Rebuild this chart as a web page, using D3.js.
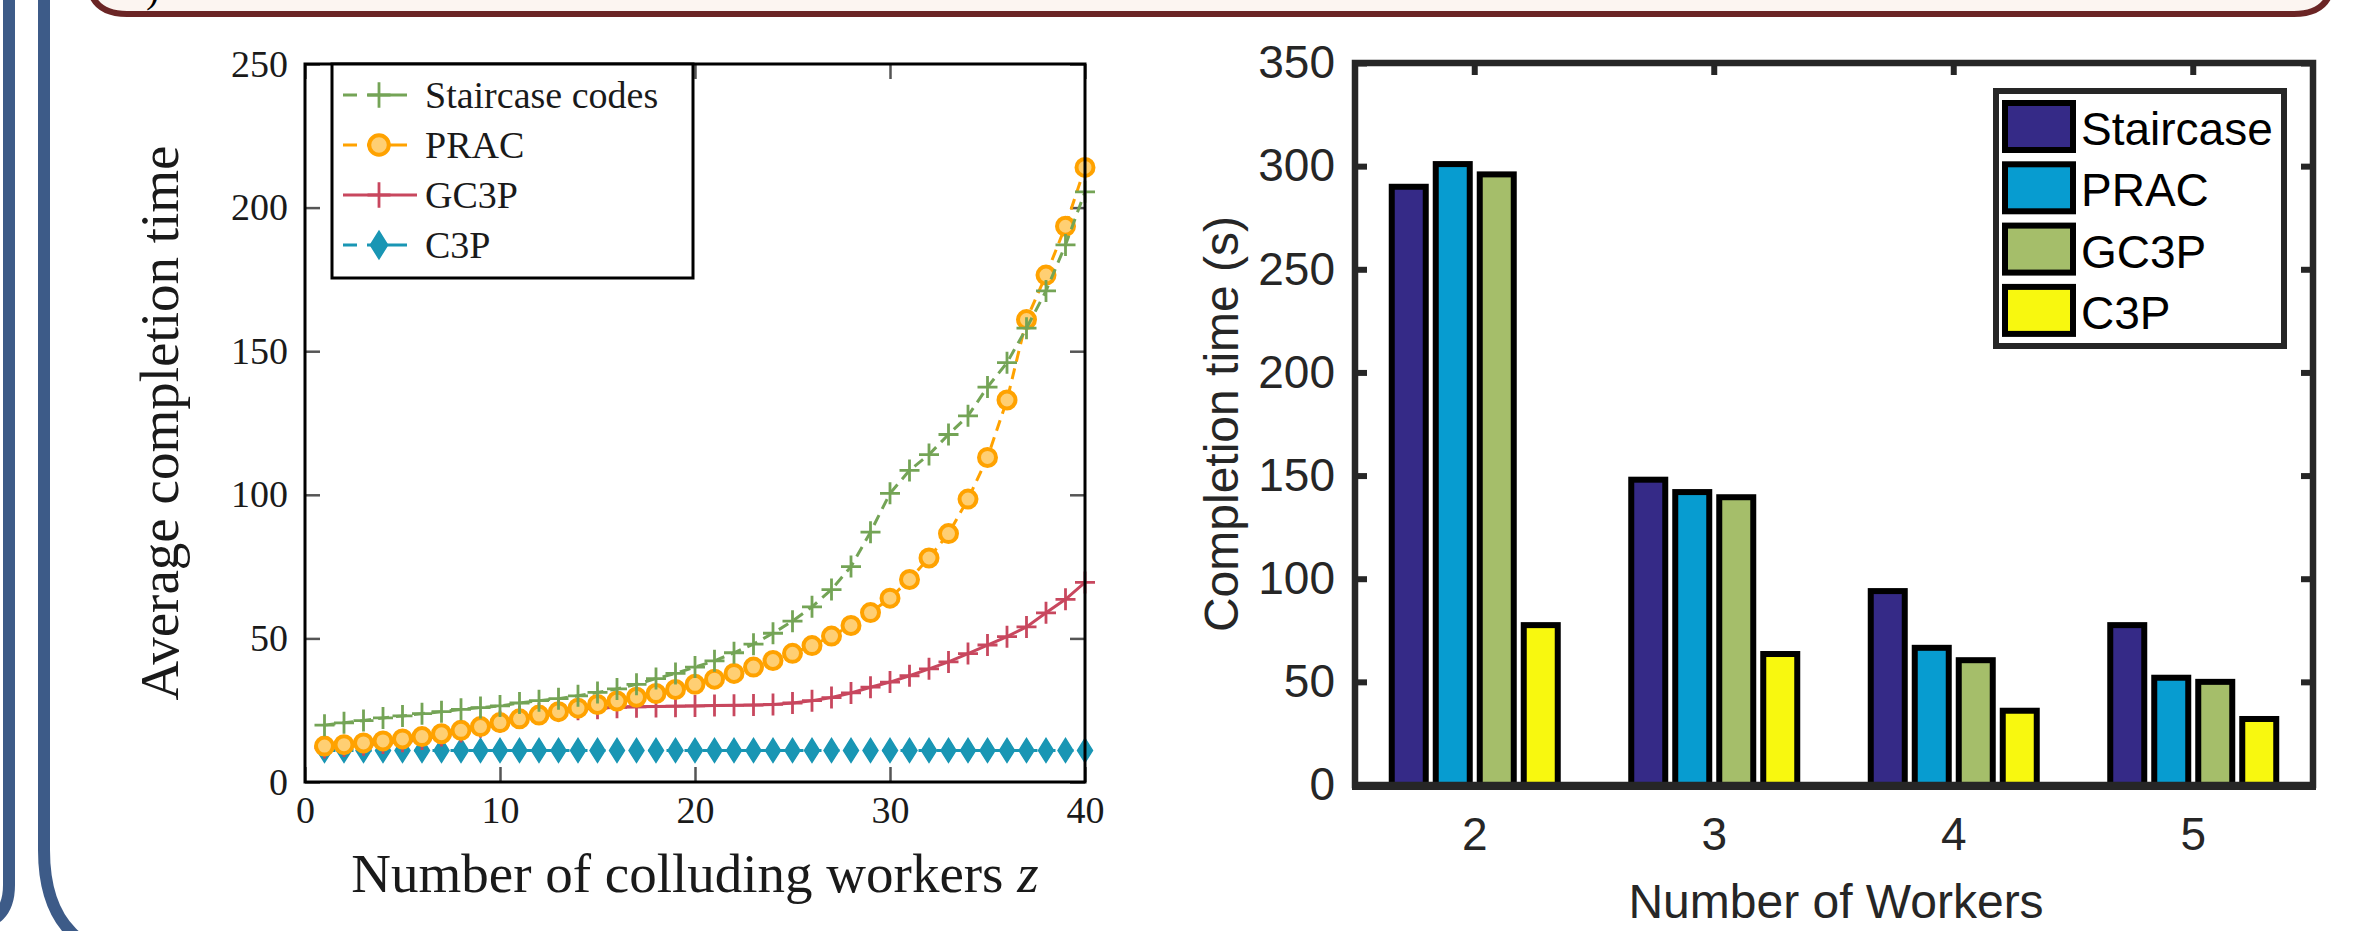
<!DOCTYPE html>
<html lang="en">
<head>
<meta charset="utf-8">
<title>Completion time comparison</title>
<script src="https://cdn.jsdelivr.net/npm/d3@7"></script>
<style>
  html, body { margin: 0; padding: 0; background: #fff; }
  svg { display: block; }
  .serif { font-family: "Liberation Serif", "DejaVu Serif", serif; fill: #1a1a1a; }
  .sans { font-family: Arial, "Liberation Sans", sans-serif; fill: #262626; }
</style>
</head>
<body>
<svg id="chart" width="2374" height="931"></svg>
<script>
// ---- left panel data: average completion time vs colluding workers z
const zWorkers = [1, 2, 3, 4, 5, 6, 7, 8, 9, 10, 11, 12, 13, 14, 15, 16, 17, 18, 19, 20,
                  21, 22, 23, 24, 25, 26, 27, 28, 29, 30, 31, 32, 33, 34, 35, 36, 37, 38, 39, 40];
const staircaseLine = [19.8, 20.6, 21.4, 22.3, 23.0, 23.8, 24.5, 25.3, 25.9, 26.5,
                       27.5, 28.3, 29.0, 30.0, 31.2, 32.4, 34.0, 36.0, 37.8, 40.0,
                       42.2, 45.0, 48.0, 51.8, 56.0, 61.0, 67.0, 75.0, 87.0, 100.5,
                       108.5, 114.0, 121.0, 127.5, 137.5, 146.0, 158.0, 171.0, 187.0, 205.5];
const pracLine = [12.5, 13.0, 13.6, 14.3, 15.0, 15.8, 16.8, 18.0, 19.3, 20.7,
                  22.0, 23.3, 24.5, 25.7, 27.0, 28.2, 29.5, 30.8, 32.2, 34.0,
                  35.8, 37.8, 40.0, 42.3, 44.8, 47.5, 50.8, 54.5, 59.0, 64.0,
                  70.5, 78.0, 86.5, 98.5, 113.0, 133.0, 161.0, 176.5, 193.5, 214.0];
const gc3pLine = [12.0, 12.5, 13.0, 13.6, 14.2, 15.0, 16.2, 17.6, 19.2, 21.0,
                  22.6, 23.8, 24.7, 25.3, 25.7, 26.0, 26.2, 26.3, 26.4, 26.5,
                  26.6, 26.7, 26.8, 27.0, 27.5, 28.3, 29.4, 31.0, 33.0, 34.8,
                  37.0, 39.4, 41.8, 44.7, 47.7, 50.6, 54.0, 58.9, 63.6, 69.5];
const c3pLine = [11, 11, 11, 11, 11, 11, 11, 11, 11, 11,
                 11, 11, 11, 11, 11, 11, 11, 11, 11, 11,
                 11, 11, 11, 11, 11, 11, 11, 11, 11, 11,
                 11, 11, 11, 11, 11, 11, 11, 11, 11, 11];
const leftXTicks = [0, 10, 20, 30, 40];
const leftYTicks = [0, 50, 100, 150, 200, 250];

// ---- right panel data: completion time vs number of workers
const workerCounts = ["2", "3", "4", "5"];
const barSeriesNames = ["Staircase", "PRAC", "GC3P", "C3P"];
const staircaseBars = [290, 148, 94, 77.5];
const pracBars = [301, 142, 66.5, 52];
const gc3pBars = [296, 139.5, 60.5, 50];
const c3pBars = [77.5, 63.5, 36, 32];
const rightYTicks = [0, 50, 100, 150, 200, 250, 300, 350];

const svg = d3.select("#chart");

// ---------- frame decorations (slide borders)
svg.append("path")
  .attr("d", "M88,-60 L88,-25 Q88,14 127,14 L2294,14 Q2333,14 2333,-25 L2333,-60 Z")
  .attr("fill", "#fcf5f1").attr("stroke", "#6b2525").attr("stroke-width", 6);
svg.append("text").attr("class", "serif").attr("x", 146).attr("y", 2)
  .attr("font-size", 40).style("fill", "#000").text(")");
svg.append("path")
  .attr("d", "M9,-10 L9,885 Q9,925 -31,925")
  .attr("fill", "none").attr("stroke", "#3d5b88").attr("stroke-width", 12);
svg.append("path")
  .attr("d", "M44,-10 L44,850 Q44,960 154,960")
  .attr("fill", "none").attr("stroke", "#3d5b88").attr("stroke-width", 12);

// ================= LEFT PANEL =================
const xL = d3.scaleLinear().domain([0, 40]).range([305, 1085]);
const yL = d3.scaleLinear().domain([0, 250]).range([782, 64]);

const left = svg.append("g");

// axes with inward ticks
left.append("g").attr("transform", "translate(305,0)")
  .call(d3.axisLeft(yL).tickValues(leftYTicks).tickSizeInner(-15).tickSizeOuter(0).tickPadding(17))
  .call(g => g.select(".domain").remove())
  .call(g => g.selectAll("line").attr("stroke", "#555").attr("stroke-width", 2.5))
  .call(g => g.selectAll("text").attr("class", "serif").attr("font-size", 38).attr("fill", null));
left.append("g").attr("transform", "translate(1085,0)")
  .call(d3.axisRight(yL).tickValues(leftYTicks).tickSizeInner(-15).tickSizeOuter(0).tickFormat(""))
  .call(g => g.select(".domain").remove())
  .call(g => g.selectAll("line").attr("stroke", "#555").attr("stroke-width", 2.5));
left.append("g").attr("transform", "translate(0,782)")
  .call(d3.axisBottom(xL).tickValues(leftXTicks).tickSizeInner(-15).tickSizeOuter(0).tickPadding(14))
  .call(g => g.select(".domain").remove())
  .call(g => g.selectAll("line").attr("stroke", "#555").attr("stroke-width", 2.5))
  .call(g => g.selectAll("text").attr("class", "serif").attr("font-size", 38).attr("fill", null));
left.append("g").attr("transform", "translate(0,64)")
  .call(d3.axisTop(xL).tickValues(leftXTicks).tickSizeInner(-15).tickSizeOuter(0).tickFormat(""))
  .call(g => g.select(".domain").remove())
  .call(g => g.selectAll("line").attr("stroke", "#555").attr("stroke-width", 2.5));

const lineGen = d3.line().x(d => xL(d[0])).y(d => yL(d[1]));
const zip = vals => zWorkers.map((z, i) => [z, vals[i]]);

const leftSeries = [
  { name: "Staircase codes", vals: staircaseLine, color: "#74a456", dash: "11,7", marker: "plus" },
  { name: "PRAC", vals: pracLine, color: "#ffa200", dash: "11,7", marker: "circle" },
  { name: "GC3P", vals: gc3pLine, color: "#c8475e", dash: null, marker: "plus" },
  { name: "C3P", vals: c3pLine, color: "#1996b4", dash: "11,7", marker: "diamond" }
];

function drawMarker(g, type, color, cx, cy, s) {
  if (type === "plus") {
    g.append("path")
      .attr("d", `M${cx - 10 * s},${cy} H${cx + 10 * s} M${cx},${cy - 11 * s} V${cy + 11 * s}`)
      .attr("stroke", color).attr("stroke-width", 2.8).attr("fill", "none");
  } else if (type === "circle") {
    g.append("circle").attr("cx", cx).attr("cy", cy).attr("r", 8.5 * s)
      .attr("fill", "#ffcf73").attr("stroke", color).attr("stroke-width", 4);
  } else {
    g.append("path")
      .attr("d", `M${cx},${cy - 12 * s} L${cx + 7.5 * s},${cy} L${cx},${cy + 12 * s} L${cx - 7.5 * s},${cy} Z`)
      .attr("fill", color).attr("stroke", color).attr("stroke-width", 1.5);
  }
}

// draw in back-to-front order like the original: C3P at the bottom
[...leftSeries].reverse().forEach(s => {
  const g = left.append("g");
  g.append("path").datum(zip(s.vals)).attr("d", lineGen)
    .attr("fill", "none").attr("stroke", s.color).attr("stroke-width", 3)
    .attr("stroke-dasharray", s.dash);
  zip(s.vals).forEach(d => drawMarker(g, s.marker, s.color, xL(d[0]), yL(d[1]), 1));
});

// frame
left.append("rect").attr("x", 305).attr("y", 64).attr("width", 780).attr("height", 718)
  .attr("fill", "none").attr("stroke", "#000").attr("stroke-width", 3);

// legend
const legL = left.append("g");
legL.append("rect").attr("x", 332).attr("y", 64).attr("width", 361).attr("height", 214)
  .attr("fill", "#fff").attr("stroke", "#000").attr("stroke-width", 3);
leftSeries.forEach((s, i) => {
  const cy = 95 + i * 50;
  const x1 = 343, x2 = s.dash ? 407 : 417;
  legL.append("line").attr("x1", x1).attr("x2", x2).attr("y1", cy).attr("y2", cy)
    .attr("stroke", s.color).attr("stroke-width", 3)
    .attr("stroke-dasharray", s.dash ? "14,10,100" : null);
  drawMarker(legL, s.marker, s.color, 379, cy, 1.15);
  legL.append("text").attr("class", "serif").attr("x", 425).attr("y", cy + 13)
    .attr("font-size", 38).text(s.name);
});

// titles
left.append("text").attr("class", "serif").attr("font-size", 55)
  .attr("text-anchor", "middle").attr("transform", "translate(178,423) rotate(-90)")
  .text("Average completion time");
const xt = left.append("text").attr("class", "serif").attr("font-size", 55)
  .attr("text-anchor", "middle").attr("x", 695).attr("y", 892);
xt.append("tspan").text("Number of colluding workers ");
xt.append("tspan").attr("font-style", "italic").text("z");

// ================= RIGHT PANEL =================
const x0 = d3.scaleBand().domain(workerCounts).range([1355, 2313]).padding(0);
const x1 = d3.scaleBand().domain(barSeriesNames).range([-88, 88]).padding(0);
const yR = d3.scaleLinear().domain([0, 350]).range([785, 63]);
const barColors = ["#352a87", "#079cd0", "#a5be6a", "#f8f80f"];
const barValues = [staircaseBars, pracBars, gc3pBars, c3pBars];

const right = svg.append("g");

right.append("g").attr("transform", "translate(1355,0)")
  .call(d3.axisLeft(yR).tickValues(rightYTicks).tickSizeInner(-12).tickSizeOuter(0).tickPadding(20))
  .call(g => g.select(".domain").remove())
  .call(g => g.selectAll("line").attr("stroke", "#262626").attr("stroke-width", 6))
  .call(g => g.selectAll("text").attr("class", "sans").attr("font-size", 46).attr("fill", null));
right.append("g").attr("transform", "translate(2313,0)")
  .call(d3.axisRight(yR).tickValues(rightYTicks).tickSizeInner(-12).tickSizeOuter(0).tickFormat(""))
  .call(g => g.select(".domain").remove())
  .call(g => g.selectAll("line").attr("stroke", "#262626").attr("stroke-width", 6));
right.append("g").attr("transform", "translate(0,63)")
  .call(d3.axisTop(x0).tickSizeInner(-12).tickSizeOuter(0).tickFormat(""))
  .call(g => g.select(".domain").remove())
  .call(g => g.selectAll("line").attr("stroke", "#262626").attr("stroke-width", 6));
right.append("g").attr("transform", "translate(0,785)")
  .call(d3.axisBottom(x0).tickSize(0).tickPadding(32))
  .call(g => g.select(".domain").remove())
  .call(g => g.selectAll("text").attr("class", "sans").attr("font-size", 46).attr("fill", null));

// bars
barSeriesNames.forEach((name, si) => {
  right.append("g").selectAll("rect")
    .data(workerCounts.map((w, wi) => ({ w, v: barValues[si][wi] })))
    .join("rect")
    .attr("x", d => x0(d.w) + x0.bandwidth() / 2 + x1(name) + 5)
    .attr("y", d => yR(d.v))
    .attr("width", x1.bandwidth() - 10)
    .attr("height", d => yR(0) - yR(d.v))
    .attr("fill", barColors[si])
    .attr("stroke", "#000").attr("stroke-width", 6);
});

// frame
right.append("rect").attr("x", 1355).attr("y", 63).attr("width", 958).attr("height", 722)
  .attr("fill", "none").attr("stroke", "#262626").attr("stroke-width", 6.5);
right.append("line").attr("x1", 1352).attr("x2", 2316).attr("y1", 786).attr("y2", 786)
  .attr("stroke", "#262626").attr("stroke-width", 8);

// legend
const legR = right.append("g");
legR.append("rect").attr("x", 1996).attr("y", 91).attr("width", 288).attr("height", 255)
  .attr("fill", "#fff").attr("stroke", "#262626").attr("stroke-width", 6);
barSeriesNames.forEach((name, i) => {
  const top = 100 + i * 61.3;
  legR.append("rect").attr("x", 2005).attr("y", top + 3).attr("width", 68).attr("height", 47)
    .attr("fill", barColors[i]).attr("stroke", "#000").attr("stroke-width", 6);
  legR.append("text").attr("class", "sans").attr("x", 2081).attr("y", top + 45)
    .attr("font-size", 46).style("fill", "#000").text(name);
});

// titles
right.append("text").attr("class", "sans").attr("font-size", 48)
  .attr("text-anchor", "middle").attr("transform", "translate(1238,424) rotate(-90)")
  .text("Completion time (s)");
right.append("text").attr("class", "sans").attr("font-size", 48)
  .attr("text-anchor", "middle").attr("x", 1836).attr("y", 918)
  .text("Number of Workers");
</script>
</body>
</html>
